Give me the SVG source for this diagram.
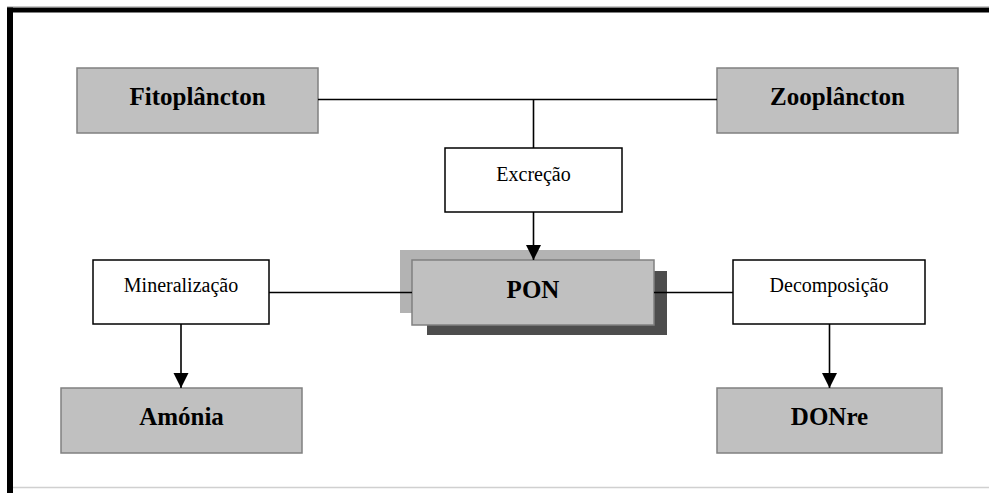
<svg xmlns="http://www.w3.org/2000/svg" width="989" height="493" viewBox="0 0 989 493">
<style>
.gbox{fill:#c0c0c0;stroke:#808080;stroke-width:1.5}
.pbox{fill:#ffffff;stroke:#000000;stroke-width:1.5}
.lbl{font-family:"Liberation Serif","Times New Roman",serif;font-weight:bold;font-size:25px;fill:#000;text-anchor:middle}
.plbl{font-family:"Liberation Serif","Times New Roman",serif;font-size:20px;fill:#000;text-anchor:middle}
.conn{stroke:#000;stroke-width:1.6;fill:none}
</style>
<defs>
<marker id="arr" markerUnits="userSpaceOnUse" markerWidth="16" markerHeight="16" refX="15" refY="7.5" orient="auto">
<path d="M0,0 L15,7.5 L0,15 Z" fill="#000"/>
</marker>
</defs>
<rect x="0" y="0" width="989" height="493" fill="#ffffff"/>
<g id="frame">
<line x1="7" y1="6.5" x2="989" y2="6.5" stroke="#c8c8c8" stroke-width="1"/>
<rect x="7" y="7.5" width="982" height="5" fill="#000"/>
<rect x="7" y="7.5" width="6" height="485.5" fill="#000"/>
<line x1="13" y1="487.5" x2="989" y2="487.5" stroke="#d0d0d0" stroke-width="1.5"/>
</g>
<g id="fitoplancton">
<rect class="gbox" x="77" y="68" width="241" height="65"/>
<text class="lbl" x="197.5" y="105">Fitoplâncton</text>
</g>
<g id="zooplancton">
<rect class="gbox" x="717" y="68" width="241" height="65"/>
<text class="lbl" x="837.5" y="105">Zooplâncton</text>
</g>
<g id="excrecao">
<rect class="pbox" x="445" y="148" width="177" height="64"/>
<text class="plbl" x="533.5" y="181">Excreção</text>
</g>
<g id="pon">
<rect x="400" y="250" width="240" height="63" fill="#b3b3b3"/>
<rect x="427" y="271" width="240" height="64" fill="#4d4d4d"/>
<rect class="gbox" x="412" y="260" width="242" height="65"/>
<text class="lbl" x="533" y="297.5">PON</text>
</g>
<g id="mineralizacao">
<rect class="pbox" x="93" y="260" width="176" height="64"/>
<text class="plbl" x="181" y="292">Mineralização</text>
</g>
<g id="decomposicao">
<rect class="pbox" x="733" y="260" width="192" height="64"/>
<text class="plbl" x="829" y="292">Decomposição</text>
</g>
<g id="amonia">
<rect class="gbox" x="61" y="388" width="241" height="65"/>
<text class="lbl" x="181.5" y="425">Amónia</text>
</g>
<g id="donre">
<rect class="gbox" x="717" y="388" width="225" height="65"/>
<text class="lbl" x="829.5" y="425">DONre</text>
</g>
<g id="connectors">
<line class="conn" x1="318" y1="99.5" x2="717" y2="99.5"/>
<line class="conn" x1="533.5" y1="99.5" x2="533.5" y2="148"/>
<line class="conn" x1="533.5" y1="212" x2="533.5" y2="260" marker-end="url(#arr)"/>
<line class="conn" x1="269" y1="292.5" x2="412" y2="292.5"/>
<line class="conn" x1="654" y1="292.5" x2="733" y2="292.5"/>
<line class="conn" x1="181" y1="324" x2="181" y2="388" marker-end="url(#arr)"/>
<line class="conn" x1="829.5" y1="324" x2="829.5" y2="388" marker-end="url(#arr)"/>
</g>
</svg>
